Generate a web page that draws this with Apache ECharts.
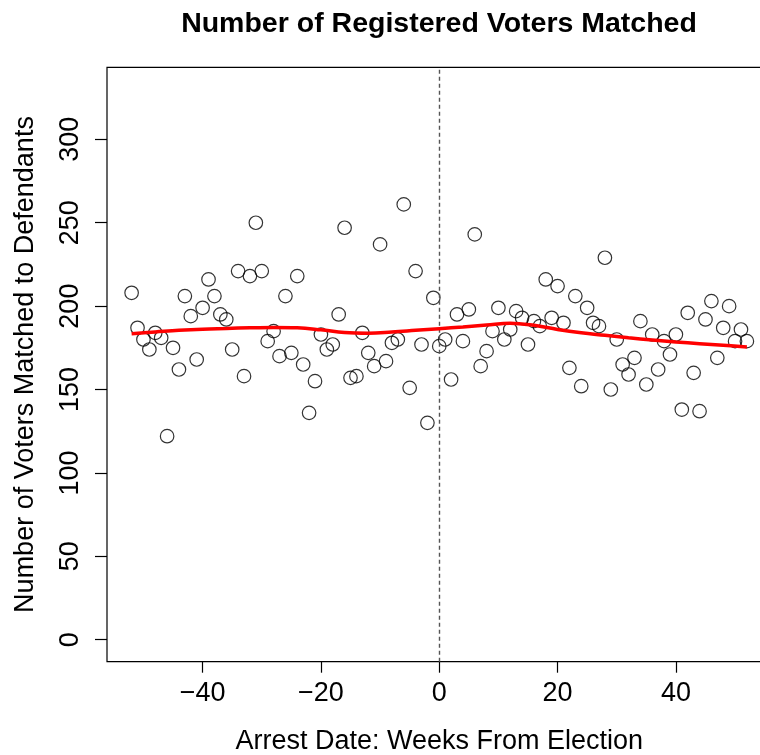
<!DOCTYPE html>
<html>
<head>
<meta charset="utf-8">
<script src="https://cdn.jsdelivr.net/npm/echarts@6/dist/echarts.min.js"></script>
<style>
html,body{margin:0;padding:0;background:#fff;}
#c{width:760px;height:755px;}
</style>
</head>
<body>
<div id="c"></div>
<script>
// Weeks from election (-52 .. 52)
const weeks = [];
for (let w = -52; w <= 52; w++) weeks.push(w);

// Number of registered voters matched (one per week)
const voters = [
  208, 187, 180, 174, 184, 181, 122, 175, 162, 206,
  194, 168, 199, 216, 206, 195, 192, 174, 221, 158,
  218, 250, 221, 179, 185, 170, 206, 172, 218, 165,
  136, 155, 183, 174, 177, 195, 247, 157, 158, 184,
  172, 164, 237, 167, 178, 180, 261, 151, 221, 177,
  130, 205, 176, 180, 156, 195, 179, 198, 243, 164,
  173, 185, 199, 180, 186, 197, 193, 177, 191, 188,
  216, 193, 212, 190, 163, 206, 152, 199, 190, 188,
  229, 150, 180, 165, 159, 169, 191, 153, 183, 162,
  179, 171, 183, 138, 196, 160, 137, 192, 203, 169,
  187, 200, 179, 186, 179
];

// Smoothed (loess) curve at sample weeks
const smoothWeeks = [-52, -48, -44, -40, -36, -32, -28, -24, -20, -16, -12, -8, -4, 0, 4, 8, 12, 16, 20, 24, 28, 32, 36, 40, 44, 48, 52];
const smoothVals  = [183.5, 184.5, 185.5, 186.2, 186.6, 187.0, 187.2, 187.0, 185.8, 184.2, 183.8, 184.5, 185.5, 186.5, 187.5, 188.7, 189.8, 188.5, 186.0, 184.0, 182.5, 181.0, 179.7, 178.5, 177.5, 176.5, 175.5];

const xTicks = [-40, -20, 0, 20, 40];
const yTicks = [0, 50, 100, 150, 200, 250, 300];

const titleText = 'Number of Registered Voters Matched';
const xTitle = 'Arrest Date: Weeks From Election';
const yTitle = 'Number of Voters Matched to Defendants';

const FONT = '"Liberation Sans", Arial, Helvetica, sans-serif';
const fmt = v => String(v).replace('-', '\u2212');

const chart = echarts.init(document.getElementById('c'), null, {renderer: 'canvas'});
chart.setOption({
  animation: false,
  backgroundColor: '#ffffff',
  title: {
    text: titleText,
    left: 434,
    top: 5,
    textAlign: 'center',
    textStyle: {fontFamily: FONT, fontWeight: 'bold', fontSize: 28.5, color: '#000'}
  },
  grid: {
    left: 107, top: 67.3, width: 664.5, height: 594.4,
    outerBoundsMode: 'none',
    containLabel: false,
    show: true, borderColor: '#000', borderWidth: 1.2, backgroundColor: 'transparent'
  },
  xAxis: {
    type: 'value',
    min: -56.16, max: 56.16,
    name: xTitle,
    nameLocation: 'middle',
    nameGap: 66,
    nameTextStyle: {fontFamily: FONT, fontSize: 27, color: '#000'},
    axisLine: {show: false, onZero: false},
    splitLine: {show: false},
    axisTick: {show: true, inside: false, length: 11, customValues: xTicks, lineStyle: {color: '#000', width: 1.2}},
    axisLabel: {customValues: xTicks, margin: 18, formatter: fmt, fontFamily: FONT, fontSize: 27, color: '#000'}
  },
  yAxis: {
    type: 'value',
    min: -13.2, max: 343.2,
    name: yTitle,
    nameLocation: 'middle',
    nameRotate: 90,
    nameGap: 68,
    nameTextStyle: {fontFamily: FONT, fontSize: 27, color: '#000'},
    axisLine: {show: false, onZero: false},
    splitLine: {show: false},
    axisTick: {show: true, inside: false, length: 12, customValues: yTicks, lineStyle: {color: '#000', width: 1.2}},
    axisLabel: {customValues: yTicks, rotate: 90, margin: 23, fontFamily: FONT, fontSize: 27, color: '#000'}
  },
  series: [
    {
      type: 'scatter',
      data: weeks.map((w, i) => [w, voters[i]]),
      symbol: 'circle',
      symbolSize: 13.5,
      itemStyle: {color: 'rgba(0,0,0,0)', borderColor: '#000', borderWidth: 1.2},
      silent: true,
      markLine: {
        silent: true,
        symbol: ['none', 'none'],
        label: {show: false},
        lineStyle: {color: '#555', type: [4, 3], width: 1.4},
        data: [{xAxis: 0}]
      }
    },
    {
      type: 'line',
      data: smoothWeeks.map((w, i) => [w, smoothVals[i]]),
      smooth: 0.4,
      showSymbol: false,
      symbol: 'none',
      lineStyle: {color: '#ff0000', width: 3.5},
      z: 5
    }
  ]
});
</script>
</body>
</html>
